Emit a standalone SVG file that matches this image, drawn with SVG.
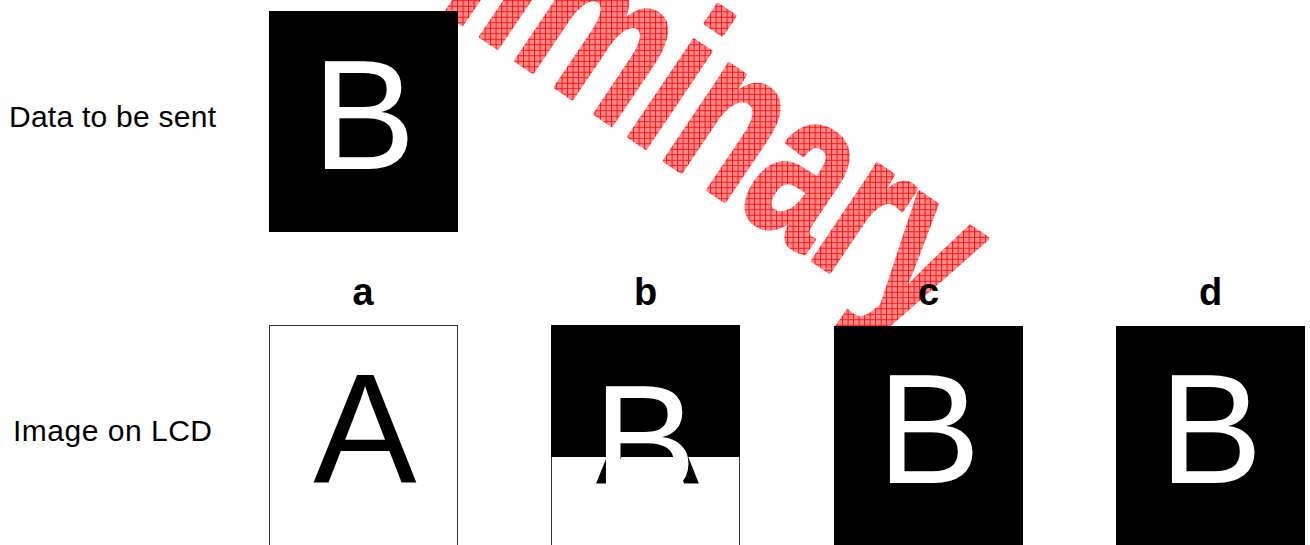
<svg xmlns="http://www.w3.org/2000/svg" width="1310" height="545" viewBox="0 0 1310 545">
  <defs>
    <pattern id="grid" patternUnits="userSpaceOnUse" width="5.5" height="5.5" patternTransform="scale(1.428571,1) rotate(-34)">
      <rect width="5.5" height="5.5" fill="#ff8a8a"/>
      <path d="M0 0.5 H5.5 M0.5 0 V5.5" stroke="#ff1010" stroke-width="1" fill="none"/>
    </pattern>
    <style>
      .side { font-family: "Liberation Sans", Arial, sans-serif; font-size: 30px; fill: #000; }
      .lbl { font-family: "Liberation Sans", Arial, sans-serif; font-size: 38px; font-weight: bold; fill: #000; text-anchor: middle; }
      .big { font-family: "Liberation Sans", Arial, sans-serif; font-size: 155px; text-anchor: middle; }
      .wm { font-family: "Liberation Sans", Arial, sans-serif; font-size: 219px; font-weight: bold; }
      .frame { fill: #fff; stroke: #333; stroke-width: 1; }
    </style>
  </defs>

  <rect width="1310" height="545" fill="#fff"/>

  <!-- watermark -->
  <g id="watermark" transform="translate(231.6,-131.7) rotate(34) scale(0.70,1)">
    <text class="wm" x="0" y="0" fill="url(#grid)" stroke="url(#grid)" stroke-width="4" stroke-linejoin="round">Preliminary</text>
  </g>

  <!-- row labels -->
  <g id="label-data">
    <text class="side" x="9" y="127" textLength="207" lengthAdjust="spacing">Data to be sent</text>
  </g>
  <g id="label-lcd">
    <text class="side" x="13" y="441" textLength="199" lengthAdjust="spacing">Image on LCD</text>
  </g>

  <!-- data to be sent -->
  <g id="data-box">
    <rect x="269" y="11" width="189" height="221" fill="#000"/>
    <text class="big" x="364" y="169" fill="#fff">B</text>
  </g>

  <!-- a -->
  <g id="box-a">
    <text class="lbl" x="363" y="305">a</text>
    <rect class="frame" x="269.5" y="325.5" width="188" height="230"/>
    <text class="big" x="365" y="482" fill="#000">A</text>
  </g>

  <!-- b -->
  <g id="box-b">
    <text class="lbl" x="645.5" y="305">b</text>
    <rect class="frame" x="551.5" y="325.5" width="188" height="230"/>
    <text class="big" x="647.5" y="483" fill="#000">A</text>
    <rect x="551" y="325" width="189" height="132" fill="#000"/>
    <text class="big" x="645" y="494" fill="#fff">B</text>
  </g>

  <!-- c -->
  <g id="box-c">
    <text class="lbl" x="928.5" y="305">c</text>
    <rect x="834" y="326" width="189" height="230" fill="#000"/>
    <text class="big" x="929" y="483" fill="#fff">B</text>
  </g>

  <!-- d -->
  <g id="box-d">
    <text class="lbl" x="1210.5" y="305">d</text>
    <rect x="1116" y="326" width="189" height="230" fill="#000"/>
    <text class="big" x="1211" y="483" fill="#fff">B</text>
  </g>

  <g id="connectors"></g>
</svg>
